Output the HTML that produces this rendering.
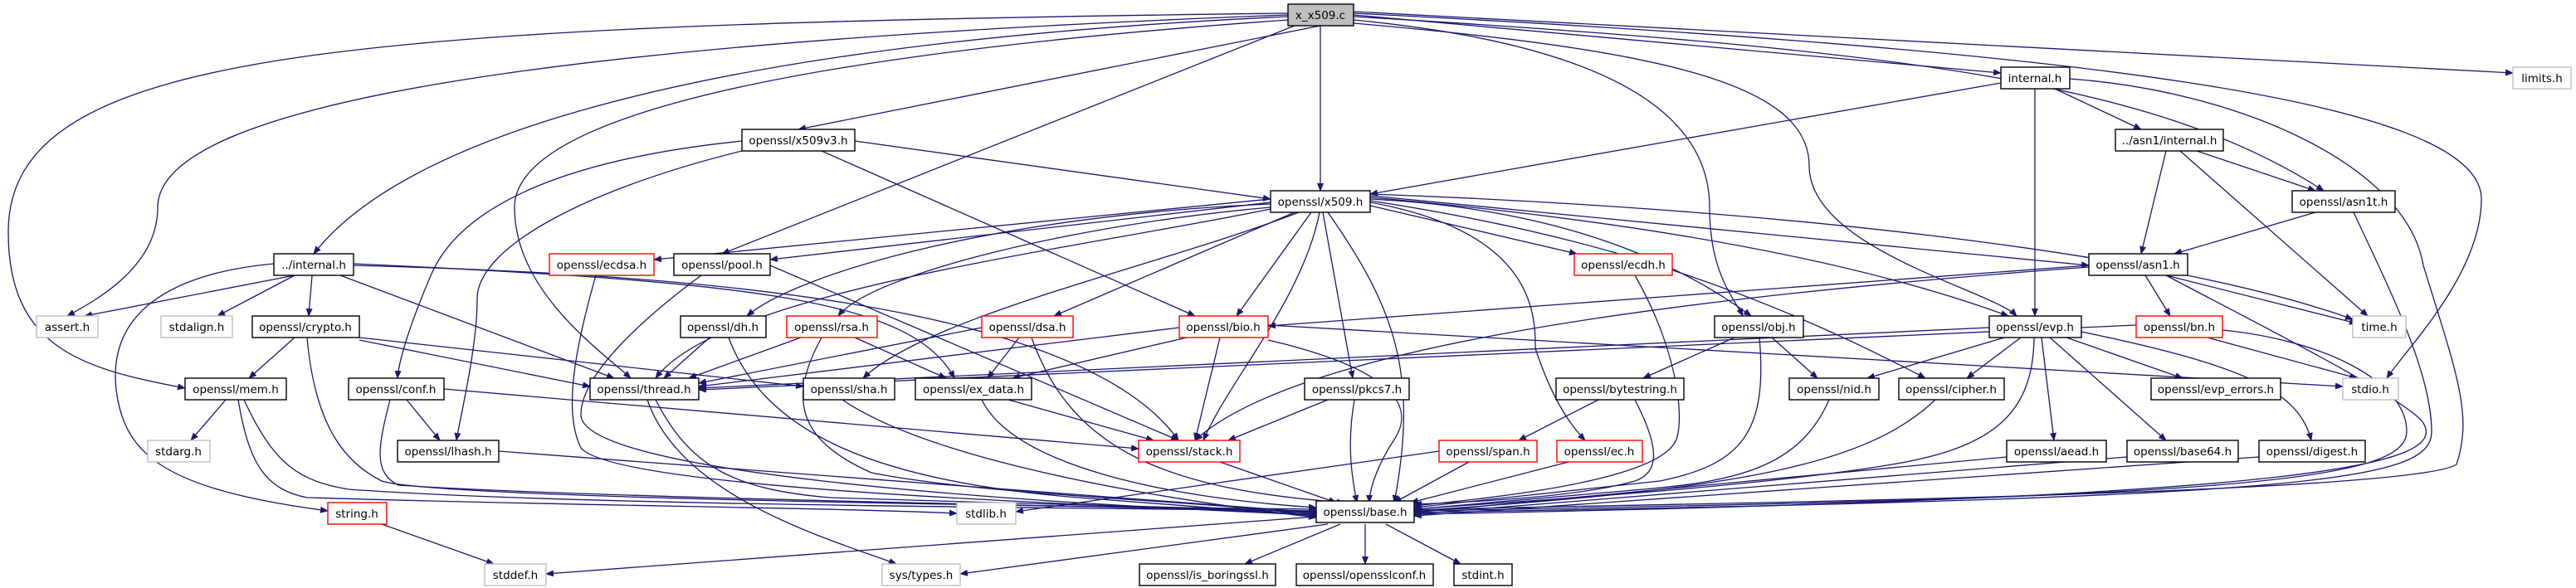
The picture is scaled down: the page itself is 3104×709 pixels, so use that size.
<!DOCTYPE html>
<html><head><meta charset="utf-8"><style>
html,body{margin:0;padding:0;background:#fff}
svg{display:block}
text{font-family:"DejaVu Sans","Liberation Sans",sans-serif;font-size:13.5px;fill:#000;text-anchor:middle}
.e{fill:none;stroke:#191970;stroke-width:1.3;marker-end:url(#ah)}
.n{fill:#fff;stroke:#000;stroke-width:1.4}
.r{fill:#fff;stroke:#ff0000;stroke-width:1.4}
.g{fill:#fff;stroke:#bfbfbf;stroke-width:1.4}
</style></head><body>
<svg width="3104" height="709" viewBox="0 0 3104 709" xmlns="http://www.w3.org/2000/svg">
<defs><marker id="ah" markerWidth="10" markerHeight="8" refX="9" refY="4" orient="auto" markerUnits="userSpaceOnUse"><path d="M0,0 L10,4 L0,8 z" fill="#191970"/></marker></defs>
<g>
<!-- from x_x509.c -->
<path class="e" d="M1591,31 L962,156"/>
<path class="e" d="M1552,20 C900,50 500,150 378,306"/>
<path class="e" d="M1552,18 C700,50 190,120 190,250 C190,320 120,360 81,381"/>
<path class="e" d="M1552,16 C400,30 10,60 10,280 C10,420 100,445 223,468"/>
<path class="e" d="M1552,24 C900,70 620,150 620,250 C620,350 720,420 760,456"/>
<path class="e" d="M1560,31 L870,306"/>
<path class="e" d="M1591,31 L1591,230"/>
<path class="e" d="M1631,18 L2411,88"/>
<path class="e" d="M1631,20 C2300,60 2600,100 2800,230"/>
<path class="e" d="M1631,24 C1900,50 2060,120 2060,250 C2060,330 2090,360 2100,381"/>
<path class="e" d="M1631,28 C2000,60 2180,100 2180,200 C2180,300 2400,350 2430,381"/>
<path class="e" d="M1631,16 C2500,60 2990,120 2990,240 C2990,330 2900,420 2876,456"/>
<path class="e" d="M1631,14 L3028,88"/>
<!-- x509v3 -->
<path class="e" d="M1030,170 L1531,240"/>
<path class="e" d="M894,170 C700,190 560,240 520,330 C490,400 480,440 479,456"/>
<path class="e" d="M894,182 C700,230 575,300 575,360 C575,420 555,500 550,531"/>
<path class="e" d="M990,182 L1440,381"/>
<!-- internal.h -->
<path class="e" d="M2411,100 L1651,234"/>
<path class="e" d="M2476,107 L2580,156"/>
<path class="e" d="M2452,107 L2452,381"/>
<path class="e" d="M2494,95 C2700,110 2900,200 2920,320 C2960,450 2980,500 2960,560 C2900,600 1800,610 1704,615"/>
<!-- asn1 internal -->
<path class="e" d="M2647,182 L2790,230"/>
<path class="e" d="M2610,182 L2580,306"/>
<path class="e" d="M2627,182 L2853,381"/>
<!-- asn1t -->
<path class="e" d="M2790,256 L2620,306"/>
<path class="e" d="M2836,256 C2880,350 2930,450 2930,520 C2930,580 2800,600 1704,618"/>
<!-- asn1.h -->
<path class="e" d="M2517,320 L1528,393"/>
<path class="e" d="M2517,322 C2000,360 1560,420 1440,531"/>
<path class="e" d="M2585,332 L2615,381"/>
<path class="e" d="M2610,332 L2840,390"/>
<path class="e" d="M2610,332 C2700,380 2900,480 2920,510 C2950,560 2800,600 1704,620"/>
<!-- ../internal.h -->
<path class="e" d="M355,332 L102,381"/>
<path class="e" d="M355,332 L262,381"/>
<path class="e" d="M376,332 L372,381"/>
<path class="e" d="M410,332 L740,456"/>
<path class="e" d="M330,318 C200,330 130,380 140,470 C150,550 200,590 395,616"/>
<path class="e" d="M426,320 C800,330 1300,360 1420,531"/>
<path class="e" d="M426,318 C900,340 1100,360 1150,456"/>
<!-- crypto -->
<path class="e" d="M355,407 L300,456"/>
<path class="e" d="M433,410 L711,466"/>
<path class="e" d="M433,407 L968,466"/>
<path class="e" d="M370,407 C380,520 420,560 460,580 C520,600 1200,610 1586,614"/>
<!-- mem -->
<path class="e" d="M272,482 L230,531"/>
<path class="e" d="M294,482 C330,560 360,580 420,590 C700,610 1300,612 1586,616"/>
<path class="e" d="M287,482 C300,560 320,590 370,600 C700,610 1000,612 1153,619"/>
<!-- conf -->
<path class="e" d="M490,482 L530,531"/>
<path class="e" d="M470,482 C455,540 450,570 480,585 C700,600 1300,610 1586,617"/>
<path class="e" d="M535,469 L1372,541"/>
<path class="e" d="M601,544 L1586,618"/>
<!-- thread -->
<path class="e" d="M790,482 C830,560 880,590 1000,600 C1300,610 1500,612 1586,619"/>
<path class="e" d="M780,482 C820,600 1000,650 1080,680"/>
<!-- ecdsa pool dh rsa sha -->
<path class="e" d="M718,332 C690,430 680,500 700,540 C740,590 1300,608 1586,620"/>
<path class="e" d="M845,332 C780,380 700,450 700,500 C700,570 1200,605 1586,621"/>
<path class="e" d="M928,320 L1420,531"/>
<path class="e" d="M855,407 L800,456"/>
<path class="e" d="M878,407 C920,520 1050,580 1300,600 L1586,622"/>
<path class="e" d="M965,407 L830,456"/>
<path class="e" d="M1030,407 L1140,456"/>
<path class="e" d="M990,407 C950,480 960,530 1050,570 C1200,600 1500,605 1586,623"/>
<path class="e" d="M1015,482 C1100,540 1300,590 1586,624"/>
<!-- string -->
<path class="e" d="M460,632 L595,680"/>
<!-- x509.h -->
<path class="e" d="M1531,240 L788,313"/>
<path class="e" d="M1531,244 L928,313"/>
<path class="e" d="M1531,246 C1200,260 960,330 900,381"/>
<path class="e" d="M1531,250 C1300,270 1050,330 1010,381"/>
<path class="e" d="M1560,256 L1270,381"/>
<path class="e" d="M1580,256 L1490,381"/>
<path class="e" d="M1565,256 C1400,320 1120,380 1040,456"/>
<path class="e" d="M1590,256 C1570,360 1480,460 1450,531"/>
<path class="e" d="M1594,256 L1630,456"/>
<path class="e" d="M1600,256 C1680,370 1710,450 1680,606"/>
<path class="e" d="M1651,248 L1900,306"/>
<path class="e" d="M1651,244 C1850,280 1850,380 1850,420 C1870,480 1890,510 1910,531"/>
<path class="e" d="M1651,240 C1850,250 2000,300 2110,381"/>
<path class="e" d="M1651,242 C1900,280 2100,340 2320,456"/>
<path class="e" d="M1651,238 C1900,260 2200,300 2420,381"/>
<path class="e" d="M1651,236 L2517,320"/>
<path class="e" d="M1651,234 C2100,250 2600,300 2835,385"/>
<path class="e" d="M1531,252 C1300,300 870,350 790,456"/>
<!-- dsa -->
<path class="e" d="M1183,395 L842,462"/>
<path class="e" d="M1228,407 L1190,456"/>
<path class="e" d="M1243,407 C1290,540 1400,590 1620,606"/>
<!-- bio -->
<path class="e" d="M1421,395 L842,466"/>
<path class="e" d="M1430,407 L1220,456"/>
<path class="e" d="M1470,407 L1440,531"/>
<path class="e" d="M1528,410 C1700,450 1700,500 1680,530 C1660,560 1650,590 1650,606"/>
<path class="e" d="M1528,392 L2823,466"/>
<!-- ex_data, pkcs7, ecdh, bytestring, span, ec -->
<path class="e" d="M1215,482 L1390,531"/>
<path class="e" d="M1183,482 C1220,560 1400,600 1586,612"/>
<path class="e" d="M1600,482 L1480,531"/>
<path class="e" d="M1632,482 C1622,540 1630,580 1635,606"/>
<path class="e" d="M1970,332 C2020,420 2030,500 2020,530 C2000,580 1800,600 1704,610"/>
<path class="e" d="M1926,482 L1830,531"/>
<path class="e" d="M1970,482 C2000,540 2000,570 1970,580 C1900,600 1760,606 1704,608"/>
<path class="e" d="M1734,544 L1224,617"/>
<path class="e" d="M1770,557 L1680,606"/>
<path class="e" d="M1890,557 L1700,606"/>
<!-- stack -->
<path class="e" d="M1470,557 L1610,606"/>
<!-- obj -->
<path class="e" d="M2090,407 L1980,456"/>
<path class="e" d="M2135,407 L2190,456"/>
<path class="e" d="M2120,407 C2130,520 2100,560 2000,580 L1704,612"/>
<!-- evp -->
<path class="e" d="M2397,395 L842,468"/>
<path class="e" d="M2415,407 L2250,456"/>
<path class="e" d="M2435,407 L2370,456"/>
<path class="e" d="M2490,407 L2630,456"/>
<path class="e" d="M2460,407 L2475,531"/>
<path class="e" d="M2470,407 L2610,531"/>
<path class="e" d="M2508,400 C2700,440 2770,470 2785,531"/>
<path class="e" d="M2451,407 C2450,500 2400,540 2280,560 C2100,590 1800,606 1704,614"/>
<!-- bn -->
<path class="e" d="M2574,392 L842,470"/>
<path class="e" d="M2660,407 L2840,456"/>
<path class="e" d="M2678,398 C2800,410 2900,460 2900,520 C2900,580 2700,600 1704,616"/>
<!-- nid cipher aead base64 digest -->
<path class="e" d="M2204,482 C2170,560 2100,580 1980,590 L1704,614"/>
<path class="e" d="M2332,482 C2250,560 2100,590 1704,616"/>
<path class="e" d="M2418,551 L1704,618"/>
<path class="e" d="M2563,551 L1704,620"/>
<path class="e" d="M2722,551 L1704,622"/>
<!-- base -->
<path class="e" d="M1586,623 L658,692"/>
<path class="e" d="M1600,632 L1157,692"/>
<path class="e" d="M1615,632 L1500,680"/>
<path class="e" d="M1645,632 L1645,680"/>
<path class="e" d="M1670,632 L1760,680"/>
</g>
<g>
<rect x="1552" y="5" width="79" height="26" fill="#bfbfbf" stroke="#000" stroke-width="1.4"/><text x="1591" y="23">x_x509.c</text>
<rect class="n" x="2411" y="81" width="83" height="26"/><text x="2452" y="99">internal.h</text>
<rect class="g" x="3028" y="81" width="70" height="26"/><text x="3063" y="99">limits.h</text>
<rect class="n" x="894" y="156" width="136" height="26"/><text x="962" y="174">openssl/x509v3.h</text>
<rect class="n" x="2549" y="156" width="130" height="26"/><text x="2614" y="174">../asn1/internal.h</text>
<rect class="n" x="1531" y="230" width="120" height="26"/><text x="1591" y="248">openssl/x509.h</text>
<rect class="n" x="2762" y="230" width="124" height="26"/><text x="2824" y="248">openssl/asn1t.h</text>
<rect class="n" x="330" y="306" width="96" height="26"/><text x="378" y="324">../internal.h</text>
<rect class="r" x="662" y="306" width="126" height="26"/><text x="725" y="324">openssl/ecdsa.h</text>
<rect class="n" x="812" y="306" width="116" height="26"/><text x="870" y="324">openssl/pool.h</text>
<rect class="r" x="1897" y="306" width="118" height="26"/><text x="1956" y="324">openssl/ecdh.h</text>
<rect class="n" x="2517" y="306" width="119" height="26"/><text x="2576" y="324">openssl/asn1.h</text>
<rect class="g" x="44" y="381" width="74" height="26"/><text x="81" y="399">assert.h</text>
<rect class="g" x="194" y="381" width="86" height="26"/><text x="237" y="399">stdalign.h</text>
<rect class="n" x="304" y="381" width="129" height="26"/><text x="368" y="399">openssl/crypto.h</text>
<rect class="n" x="820" y="381" width="103" height="26"/><text x="871" y="399">openssl/dh.h</text>
<rect class="r" x="948" y="381" width="109" height="26"/><text x="1002" y="399">openssl/rsa.h</text>
<rect class="r" x="1183" y="381" width="110" height="26"/><text x="1238" y="399">openssl/dsa.h</text>
<rect class="r" x="1421" y="381" width="107" height="26"/><text x="1474" y="399">openssl/bio.h</text>
<rect class="n" x="2066" y="381" width="107" height="26"/><text x="2119" y="399">openssl/obj.h</text>
<rect class="n" x="2397" y="381" width="111" height="26"/><text x="2452" y="399">openssl/evp.h</text>
<rect class="r" x="2574" y="381" width="104" height="26"/><text x="2626" y="399">openssl/bn.h</text>
<rect class="g" x="2835" y="381" width="64" height="26"/><text x="2867" y="399">time.h</text>
<rect class="n" x="223" y="456" width="122" height="26"/><text x="284" y="474">openssl/mem.h</text>
<rect class="n" x="420" y="456" width="115" height="26"/><text x="477" y="474">openssl/conf.h</text>
<rect class="n" x="711" y="456" width="131" height="26"/><text x="776" y="474">openssl/thread.h</text>
<rect class="n" x="968" y="456" width="110" height="26"/><text x="1023" y="474">openssl/sha.h</text>
<rect class="n" x="1103" y="456" width="140" height="26"/><text x="1173" y="474">openssl/ex_data.h</text>
<rect class="n" x="1572" y="456" width="126" height="26"/><text x="1635" y="474">openssl/pkcs7.h</text>
<rect class="n" x="1875" y="456" width="154" height="26"/><text x="1952" y="474">openssl/bytestring.h</text>
<rect class="n" x="2156" y="456" width="108" height="26"/><text x="2210" y="474">openssl/nid.h</text>
<rect class="n" x="2288" y="456" width="127" height="26"/><text x="2351" y="474">openssl/cipher.h</text>
<rect class="n" x="2592" y="456" width="156" height="26"/><text x="2670" y="474">openssl/evp_errors.h</text>
<rect class="g" x="2823" y="456" width="67" height="26"/><text x="2856" y="474">stdio.h</text>
<rect class="g" x="178" y="531" width="75" height="26"/><text x="215" y="549">stdarg.h</text>
<rect class="n" x="479" y="531" width="122" height="26"/><text x="540" y="549">openssl/lhash.h</text>
<rect class="r" x="1372" y="531" width="122" height="26"/><text x="1433" y="549">openssl/stack.h</text>
<rect class="r" x="1734" y="531" width="118" height="26"/><text x="1793" y="549">openssl/span.h</text>
<rect class="r" x="1876" y="531" width="103" height="26"/><text x="1927" y="549">openssl/ec.h</text>
<rect class="n" x="2418" y="531" width="120" height="26"/><text x="2478" y="549">openssl/aead.h</text>
<rect class="n" x="2563" y="531" width="134" height="26"/><text x="2630" y="549">openssl/base64.h</text>
<rect class="n" x="2722" y="531" width="128" height="26"/><text x="2786" y="549">openssl/digest.h</text>
<rect class="r" x="395" y="606" width="71" height="26"/><text x="430" y="624">string.h</text>
<rect class="g" x="1153" y="606" width="71" height="26"/><text x="1188" y="624">stdlib.h</text>
<rect class="n" x="1586" y="604" width="118" height="26"/><text x="1645" y="622">openssl/base.h</text>
<rect class="g" x="584" y="680" width="74" height="26"/><text x="621" y="698">stddef.h</text>
<rect class="g" x="1063" y="680" width="94" height="26"/><text x="1110" y="698">sys/types.h</text>
<rect class="n" x="1373" y="680" width="164" height="26"/><text x="1455" y="698">openssl/is_boringssl.h</text>
<rect class="n" x="1562" y="680" width="165" height="26"/><text x="1644" y="698">openssl/opensslconf.h</text>
<rect class="n" x="1752" y="680" width="70" height="26"/><text x="1787" y="698">stdint.h</text>
</g>
</svg>
</body></html>
